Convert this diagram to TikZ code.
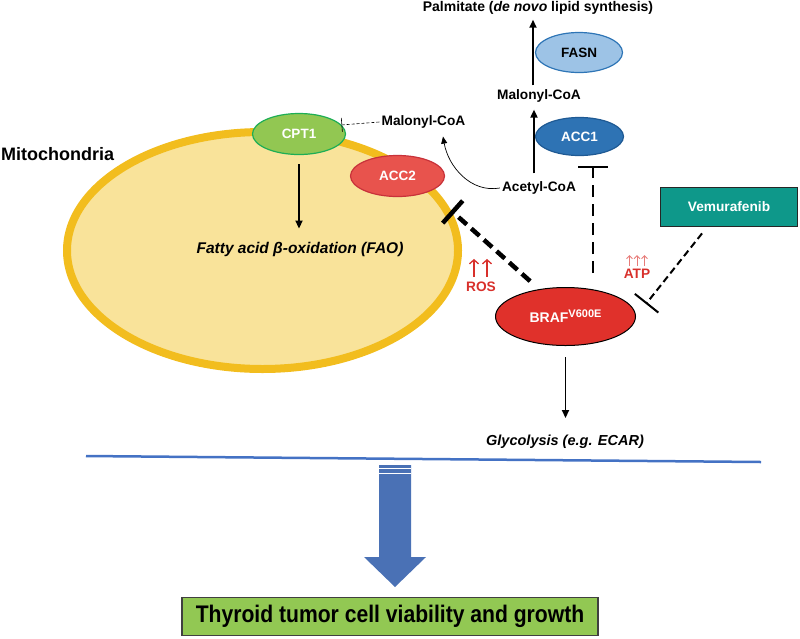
\documentclass[tikz,border=0pt]{standalone}
\usepackage{fontspec}
\setmainfont{Liberation Sans}
\usepackage{graphicx}
\usepackage{tikz}
\usetikzlibrary{arrows, arrows.meta, shapes.geometric, calc, positioning}

\definecolor{mitofill}{HTML}{F9E39A}
\definecolor{mitoedge}{HTML}{F2BD1E}
\definecolor{cptfill}{HTML}{92C752}
\definecolor{cptedge}{HTML}{1DAE55}
\definecolor{acctwofill}{HTML}{E8534D}
\definecolor{acctwoedge}{HTML}{C8323A}
\definecolor{acconefill}{HTML}{2E73B4}
\definecolor{acconeedge}{HTML}{1F5A94}
\definecolor{fasnfill}{HTML}{9DC3E6}
\definecolor{fasnedge}{HTML}{2E75B6}
\definecolor{braffill}{HTML}{E0312B}
\definecolor{vemufill}{HTML}{0E988A}
\definecolor{rosred}{HTML}{D8302B}
\definecolor{atpred}{HTML}{E77B78}
\definecolor{lineblue}{HTML}{4472C4}
\definecolor{arrowblue}{HTML}{4A71B5}
\definecolor{boxgreen}{HTML}{92C853}

\newcommand{\setfs}[1]{\fontsize{#1}{#1}\selectfont}

\begin{document}
\begin{tikzpicture}[x=1pt, y=-1pt, >={Triangle[length=8pt,width=7pt]},
    enzyme/.style={ellipse, draw, line width=1.2pt, inner sep=0pt, text=white, font=\setfs{13.5}\bfseries},
    lbl/.style={font=\setfs{13.7}\bfseries, inner sep=2pt},
    flow/.style={line width=1.7pt, ->},
    upred/.style={line width=1.3pt, -{Straight Barb[length=4pt,width=9pt]}}]
	\useasboundingbox (0,0) rectangle (800,638);

	\node[ellipse, draw=mitoedge, fill=mitofill, line width=8pt, inner sep=0pt, minimum width=391pt, minimum height=237pt] (mito) at (262.5,250.5) {};
	\node[font=\setfs{18}\bfseries, anchor=west, inner sep=0pt] (mitolbl) at (1,154) {Mitochondria};

	\node[enzyme, fill=cptfill, draw=cptedge, minimum width=93pt, minimum height=41pt] (cpt1) at (299,134) {CPT1};
	\node[enzyme, fill=acctwofill, draw=acctwoedge, minimum width=94pt, minimum height=41pt] (acc2) at (397.5,176) {ACC2};
	\node[enzyme, fill=acconefill, draw=acconeedge, minimum width=88pt, minimum height=38pt] (acc1) at (579.5,136.5) {ACC1};
	\node[enzyme, fill=fasnfill, draw=fasnedge, text=black, minimum width=87pt, minimum height=40pt] (fasn) at (579,52.5) {FASN};
	\node[enzyme, fill=braffill, draw=black, line width=1pt, minimum width=140pt, minimum height=58pt, font=\setfs{14}\bfseries] (braf) at (565.5,316.5) {BRAF\raisebox{5pt}{\setfs{11}V600E}};
	\node[rectangle, draw=black!85, line width=1.3pt, fill=vemufill, text=white, font=\setfs{13.7}\bfseries, minimum width=137pt, minimum height=39pt] (vemu) at (729,207) {Vemurafenib};

	\node[lbl] (malL) at (423.5,122) {Malonyl-CoA};
	\node[lbl] (malR) at (539,96) {Malonyl-CoA};
	\node[lbl] (acetyl) at (539,188) {Acetyl-CoA};
	\node[lbl, font=\setfs{14}\bfseries] (palm) at (538,8) {Palmitate (\textit{de novo} lipid synthesis)};
	\node[lbl, font=\setfs{15.5}\bfseries\itshape] (fao) at (300,249) {Fatty acid β-oxidation (FAO)};
	\node[lbl, font=\setfs{14.5}\bfseries\itshape] (glyc) at (565,442) {Glycolysis (e.g. ECAR)};
	\node[lbl, text=rosred] (ros) at (481,287) {ROS};
	\node[lbl, text=rosred] (atp) at (637,274) {ATP};

	\draw[flow, shorten <=9pt, shorten >=11pt] (cpt1.south) -- (cpt1.south |- fao.north);
	\draw[flow, shorten <=6pt] ([xshift=-5pt]acetyl.north) -- ([xshift=-5pt,yshift=-5pt]malR.south);
	\draw[flow, shorten <=2pt, shorten >=3pt] ([xshift=-6pt]malR.north) -- ([xshift=-5pt]palm.south);
	\draw[line width=0.7pt, -{Triangle[length=7pt,width=6pt]}] (acetyl.west) to[out=190, in=-80] ([xshift=19.5pt,yshift=-6pt]malL.south);
	\draw[densely dashed, line width=0.6pt, -{Bar[width=14pt]}] (malL.west) -- (cpt1.12);
	\draw[flow, shorten <=11pt, shorten >=15pt] (braf.south) -- (braf.south |- glyc.north);

	\draw[line width=2.2pt, dash pattern=on 12pt off 7pt, -{Bar[width=30pt]}, shorten <=14pt, shorten >=10pt] ([xshift=27.5pt]braf.north) -- ([xshift=13.5pt]acc1.south);
	\draw[line width=4.5pt, dash pattern=on 11pt off 6pt, -{Bar[width=30pt]}, shorten <=12pt] (braf.134) -- (mito.12);
	\draw[line width=2pt, dash pattern=on 7pt off 4pt, -{Bar[width=30pt]}, shorten <=8pt, shorten >=16pt] ([xshift=-22pt]vemu.south) -- (braf.east);

	\foreach \dx in {-7,6} \draw[upred, draw=rosred] ([xshift=\dx pt, yshift=3pt]ros.north) -- ++(0,-18);
	\foreach \dx in {-7.5,0,7.5} \draw[upred, draw=atpred, line width=0.9pt, -{Straight Barb[length=3pt,width=6pt]}] ([xshift=\dx pt, yshift=1pt]atp.north) -- ++(0,-11);

	\coordinate (lineL) at (86,456); \coordinate (lineR) at (761,462);
	\draw[lineblue, line width=2.5pt] (lineL) -- (lineR);

	\node[rectangle, draw=black!75, line width=1.2pt, fill=boxgreen, minimum width=416pt, minimum height=38pt, font=\setfs{24}\bfseries] (thyroid) at (390,616.5) {\scalebox{0.88}[1]{Thyroid tumor cell viability and growth}};

	\fill[arrowblue] (379,465) -- (411,465) -- (411,557) -- (426,557) -- (395,587) -- (364,557) -- (379,557) -- cycle;
	\draw[white, line width=0.6pt] (379,468.5) -- (411,468.5); \draw[white, line width=0.6pt] (379,473) -- (411,473);
\end{tikzpicture}
\end{document}
